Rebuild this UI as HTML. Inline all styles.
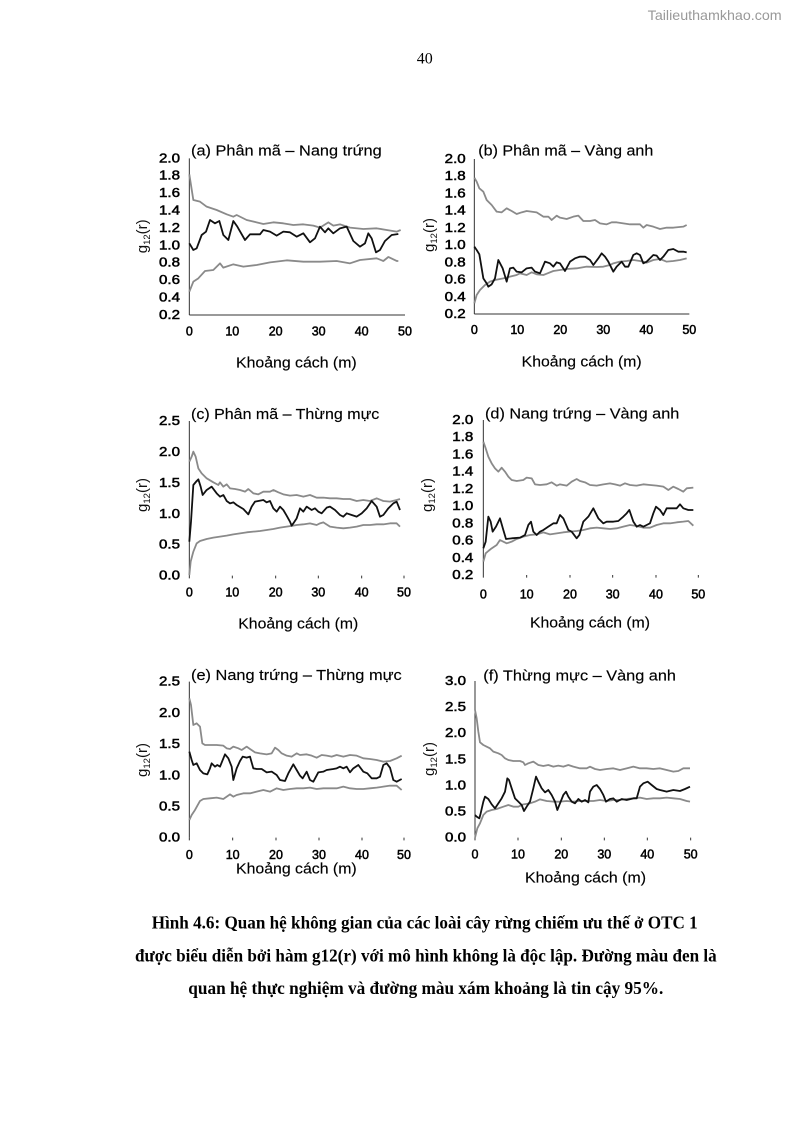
<!DOCTYPE html>
<html><head><meta charset="utf-8"><style>
html,body{margin:0;padding:0;background:#fff;}
svg{display:block;}
.tk{font-family:"Liberation Sans",Arial,sans-serif;font-size:12.5px;fill:#000;stroke:#000;stroke-width:0.5;}
.tt{font-family:"Liberation Sans",Arial,sans-serif;font-size:15px;fill:#000;stroke:#000;stroke-width:0.15;}
.yl{font-family:"Liberation Sans",Arial,sans-serif;font-size:15px;fill:#111;}
.cap{font-family:"Liberation Serif","Times New Roman",serif;font-size:18px;font-weight:bold;fill:#000;}
.g{fill:none;stroke:#8a8a8a;stroke-width:1.8;stroke-linejoin:round;}
.b{fill:none;stroke:#111;stroke-width:1.8;stroke-linejoin:round;}
.ax{stroke:#333;stroke-width:1;fill:none;}
</style></head><body>
<svg width="794" height="1123" viewBox="0 0 794 1123" xmlns="http://www.w3.org/2000/svg">
<rect width="794" height="1123" fill="#fff"/>
<text x="647.7" y="20" font-family="Liberation Sans, Arial, sans-serif" font-size="14" fill="#999" textLength="134" lengthAdjust="spacingAndGlyphs">Tailieuthamkhao.com</text>
<text x="416.7" y="63.3" font-family="Liberation Serif, Times New Roman, serif" font-size="16" fill="#000">40</text>

<!-- Panel a -->
<g transform="translate(130,135) scale(0.33333)">
<line class="ax" vector-effect="non-scaling-stroke" x1="178" y1="70" x2="178" y2="540"/>
<line class="ax" vector-effect="non-scaling-stroke" x1="178" y1="540" x2="825" y2="540"/>
<polyline class="g" vector-effect="non-scaling-stroke" points="178,118 190,195 210,200 230,215 260,225 290,238 310,245 320,240 350,255 380,262 400,267 430,262 460,265 490,270 520,268 550,272 570,278 595,262 610,272 630,268 660,278 700,282 740,280 770,285 800,290 812,285"/>
<polyline class="g" vector-effect="non-scaling-stroke" points="178,470 190,440 205,430 225,408 250,405 270,385 280,398 310,388 340,395 380,390 420,382 470,376 520,380 570,380 620,378 660,385 690,375 740,370 760,378 775,366 800,378 805,378"/>
<polyline class="b" vector-effect="non-scaling-stroke" points="178,325 190,345 200,340 215,300 228,290 240,255 255,265 268,258 280,300 295,315 310,258 322,275 345,315 360,298 390,298 400,285 420,290 440,302 460,290 480,292 500,305 520,295 540,322 555,310 570,275 585,292 595,280 610,295 630,280 650,275 670,318 690,335 705,325 715,295 725,310 738,352 750,345 765,318 785,300 805,297"/>
</g>
<g class="tk" text-anchor="end">
<text x="180" y="162.3" textLength="21" lengthAdjust="spacingAndGlyphs">2.0</text>
<text x="180" y="179.7" textLength="21" lengthAdjust="spacingAndGlyphs">1.8</text>
<text x="180" y="197" textLength="21" lengthAdjust="spacingAndGlyphs">1.6</text>
<text x="180" y="214.7" textLength="21" lengthAdjust="spacingAndGlyphs">1.4</text>
<text x="180" y="232" textLength="21" lengthAdjust="spacingAndGlyphs">1.2</text>
<text x="180" y="249.3" textLength="21" lengthAdjust="spacingAndGlyphs">1.0</text>
<text x="180" y="266.7" textLength="21" lengthAdjust="spacingAndGlyphs">0.8</text>
<text x="180" y="284" textLength="21" lengthAdjust="spacingAndGlyphs">0.6</text>
<text x="180" y="301.3" textLength="21" lengthAdjust="spacingAndGlyphs">0.4</text>
<text x="180" y="319" textLength="21" lengthAdjust="spacingAndGlyphs">0.2</text>
</g>
<g class="tk" text-anchor="middle">
<text x="189.3" y="335.7">0</text><text x="232.3" y="335.7">10</text><text x="275.7" y="335.7">20</text><text x="318.7" y="335.7">30</text><text x="361.7" y="335.7">40</text><text x="405" y="335.7">50</text>
</g>
<text class="tt" x="191" y="155.7" textLength="190.7" lengthAdjust="spacingAndGlyphs">(a) Phân mã – Nang trứng</text>
<text class="tt" x="236" y="367.3" textLength="120.7" lengthAdjust="spacingAndGlyphs">Khoảng cách (m)</text>
<text class="yl" text-anchor="middle" transform="translate(147,236.3) rotate(-90)">g<tspan font-size="9.5" dy="3">12</tspan><tspan dy="-3">(r)</tspan></text>

<!-- Panel b -->
<g transform="translate(420,135) scale(0.33333)">
<line class="ax" vector-effect="non-scaling-stroke" x1="163" y1="72" x2="163" y2="537"/>
<line class="ax" vector-effect="non-scaling-stroke" x1="163" y1="537" x2="808" y2="537"/>
<polyline class="g" vector-effect="non-scaling-stroke" points="163,128 170,140 178,160 190,170 200,195 215,210 230,230 245,232 260,220 275,228 290,237 305,232 320,228 350,232 370,245 385,245 395,255 410,242 420,248 440,252 460,245 475,242 490,258 510,258 525,255 540,265 560,268 575,262 590,262 610,265 630,268 660,268 670,278 680,270 700,275 720,282 740,278 760,278 790,275 800,270"/>
<polyline class="g" vector-effect="non-scaling-stroke" points="163,505 170,480 180,465 195,450 210,440 225,435 250,430 270,425 290,420 300,415 320,420 335,412 350,418 370,420 380,416 400,408 420,405 440,402 470,400 500,395 530,396 550,395 570,390 580,385 600,380 620,378 640,375 660,378 680,383 700,375 720,372 740,380 760,378 780,375 800,370"/>
<polyline class="b" vector-effect="non-scaling-stroke" points="163,335 170,345 178,358 190,430 200,445 205,455 215,448 225,430 235,375 248,400 260,440 270,400 280,398 290,410 305,412 320,400 335,398 345,410 360,415 375,380 390,385 400,395 410,382 420,385 435,408 450,380 465,370 480,365 495,365 510,375 520,390 535,370 545,355 555,365 565,380 580,410 590,395 605,380 615,395 625,395 640,360 650,355 660,360 670,385 680,380 700,360 710,362 720,375 730,365 745,345 760,342 775,350 790,350 800,352"/>
</g>
<g class="tk" text-anchor="end">
<text x="465.7" y="163" textLength="21" lengthAdjust="spacingAndGlyphs">2.0</text>
<text x="465.7" y="180.2" textLength="21" lengthAdjust="spacingAndGlyphs">1.8</text>
<text x="465.7" y="197.4" textLength="21" lengthAdjust="spacingAndGlyphs">1.6</text>
<text x="465.7" y="214.7" textLength="21" lengthAdjust="spacingAndGlyphs">1.4</text>
<text x="465.7" y="231.9" textLength="21" lengthAdjust="spacingAndGlyphs">1.2</text>
<text x="465.7" y="249.1" textLength="21" lengthAdjust="spacingAndGlyphs">1.0</text>
<text x="465.7" y="266.3" textLength="21" lengthAdjust="spacingAndGlyphs">0.8</text>
<text x="465.7" y="283.5" textLength="21" lengthAdjust="spacingAndGlyphs">0.6</text>
<text x="465.7" y="300.8" textLength="21" lengthAdjust="spacingAndGlyphs">0.4</text>
<text x="465.7" y="318" textLength="21" lengthAdjust="spacingAndGlyphs">0.2</text>
</g>
<g class="tk" text-anchor="middle">
<text x="474.3" y="334">0</text><text x="517.3" y="334">10</text><text x="560.3" y="334">20</text><text x="603.3" y="334">30</text><text x="646.3" y="334">40</text><text x="689.3" y="334">50</text>
</g>
<text class="tt" x="478.3" y="155.7" textLength="175" lengthAdjust="spacingAndGlyphs">(b) Phân mã – Vàng anh</text>
<text class="tt" x="521.7" y="366.7" textLength="120" lengthAdjust="spacingAndGlyphs">Khoảng cách (m)</text>
<text class="yl" text-anchor="middle" transform="translate(434,235) rotate(-90)">g<tspan font-size="9.5" dy="3">12</tspan><tspan dy="-3">(r)</tspan></text>

<!-- Panel c -->
<g transform="translate(130,395) scale(0.33333)">
<line class="ax" vector-effect="non-scaling-stroke" x1="178" y1="78" x2="178" y2="542"/>
<path class="ax" vector-effect="non-scaling-stroke" d="M178,542v8M307,542v8M437,542v8M565,542v8M695,542v8M822,542v8"/>
<polyline class="g" vector-effect="non-scaling-stroke" points="178,200 185,185 190,170 197,185 205,220 215,235 230,250 250,262 265,270 270,262 280,275 290,268 300,280 315,282 330,285 345,290 355,282 370,295 385,298 400,290 420,290 430,285 445,292 460,298 480,302 500,300 520,305 540,300 560,308 580,308 600,310 620,310 640,312 660,312 680,318 700,315 720,318 740,310 760,318 780,320 800,315 810,312"/>
<polyline class="g" vector-effect="non-scaling-stroke" points="178,540 182,500 190,470 200,445 210,438 230,432 250,428 270,425 290,422 310,418 330,415 350,412 370,410 390,408 410,405 430,402 450,398 470,395 490,392 500,390 520,388 540,385 560,390 570,385 580,382 600,395 620,398 640,400 660,398 680,395 700,390 720,390 740,388 760,388 780,385 800,385 810,395"/>
<polyline class="b" vector-effect="non-scaling-stroke" points="178,440 183,380 190,270 200,258 205,253 212,275 218,300 230,285 245,275 260,295 270,305 280,300 290,318 300,325 310,322 320,330 340,342 355,358 365,335 375,320 385,318 400,315 410,322 420,318 430,340 440,350 450,335 460,345 470,362 480,380 485,392 490,385 500,370 510,340 520,350 530,335 545,345 555,340 565,350 575,355 590,338 600,335 615,345 630,360 640,365 650,355 665,360 680,365 695,355 710,340 725,318 740,335 750,365 760,360 775,340 790,325 800,320 810,345"/>
</g>
<g class="tk" text-anchor="end">
<text x="180" y="425" textLength="21" lengthAdjust="spacingAndGlyphs">2.5</text>
<text x="180" y="455.9" textLength="21" lengthAdjust="spacingAndGlyphs">2.0</text>
<text x="180" y="486.9" textLength="21" lengthAdjust="spacingAndGlyphs">1.5</text>
<text x="180" y="517.8" textLength="21" lengthAdjust="spacingAndGlyphs">1.0</text>
<text x="180" y="548.7" textLength="21" lengthAdjust="spacingAndGlyphs">0.5</text>
<text x="180" y="579.7" textLength="21" lengthAdjust="spacingAndGlyphs">0.0</text>
</g>
<g class="tk" text-anchor="middle">
<text x="189.3" y="596.7">0</text><text x="232.3" y="596.7">10</text><text x="275.7" y="596.7">20</text><text x="318.3" y="596.7">30</text><text x="361.7" y="596.7">40</text><text x="404" y="596.7">50</text>
</g>
<text class="tt" x="191" y="419" textLength="188.3" lengthAdjust="spacingAndGlyphs">(c) Phân mã – Thừng mực</text>
<text class="tt" x="238.3" y="628.3" textLength="120" lengthAdjust="spacingAndGlyphs">Khoảng cách (m)</text>
<text class="yl" text-anchor="middle" transform="translate(147,495) rotate(-90)">g<tspan font-size="9.5" dy="3">12</tspan><tspan dy="-3">(r)</tspan></text>

<!-- Panel d -->
<g transform="translate(420,395) scale(0.33333)">
<line class="ax" vector-effect="non-scaling-stroke" x1="190" y1="75" x2="190" y2="540"/>
<path class="ax" vector-effect="non-scaling-stroke" d="M190,540v8M320,540v8M450,540v8M578,540v8M708,540v8M835,540v8"/>
<polyline class="g" vector-effect="non-scaling-stroke" points="190,140 197,160 205,185 215,205 225,220 235,230 245,218 255,230 265,245 275,255 290,258 310,255 320,248 335,250 345,268 360,270 380,268 395,262 410,272 420,268 440,272 455,260 470,252 480,258 495,262 510,270 530,272 550,268 570,265 585,268 600,272 615,265 630,270 650,272 670,268 690,270 710,272 730,275 745,285 760,275 775,282 790,290 800,280 820,278"/>
<polyline class="g" vector-effect="non-scaling-stroke" points="190,500 197,475 205,468 215,460 230,450 240,435 250,440 260,445 275,440 290,432 310,425 330,420 350,418 370,412 390,418 410,415 430,412 450,410 470,408 490,405 510,400 530,398 550,400 570,402 590,400 610,395 630,390 650,393 670,398 690,398 710,390 730,385 750,385 770,382 790,380 805,378 820,392"/>
<polyline class="b" vector-effect="non-scaling-stroke" points="190,460 197,440 205,365 212,380 218,410 228,395 240,370 250,405 258,432 275,430 300,428 315,420 325,390 333,380 340,410 350,420 360,410 370,405 385,395 400,385 410,385 420,360 430,370 445,405 455,410 470,430 478,420 490,380 505,365 520,340 535,370 550,385 560,380 580,380 595,378 610,365 620,355 628,345 640,380 650,395 660,390 670,395 680,390 690,385 700,355 708,335 720,345 730,360 740,340 755,340 770,340 780,328 790,340 805,345 820,345"/>
</g>
<g class="tk" text-anchor="end">
<text x="473.3" y="424" textLength="21" lengthAdjust="spacingAndGlyphs">2.0</text>
<text x="473.3" y="441.2" textLength="21" lengthAdjust="spacingAndGlyphs">1.8</text>
<text x="473.3" y="458.4" textLength="21" lengthAdjust="spacingAndGlyphs">1.6</text>
<text x="473.3" y="475.7" textLength="21" lengthAdjust="spacingAndGlyphs">1.4</text>
<text x="473.3" y="492.9" textLength="21" lengthAdjust="spacingAndGlyphs">1.2</text>
<text x="473.3" y="510.1" textLength="21" lengthAdjust="spacingAndGlyphs">1.0</text>
<text x="473.3" y="527.3" textLength="21" lengthAdjust="spacingAndGlyphs">0.8</text>
<text x="473.3" y="544.5" textLength="21" lengthAdjust="spacingAndGlyphs">0.6</text>
<text x="473.3" y="561.8" textLength="21" lengthAdjust="spacingAndGlyphs">0.4</text>
<text x="473.3" y="579" textLength="21" lengthAdjust="spacingAndGlyphs">0.2</text>
</g>
<g class="tk" text-anchor="middle">
<text x="483.3" y="598.3">0</text><text x="526.7" y="598.3">10</text><text x="570" y="598.3">20</text><text x="612.7" y="598.3">30</text><text x="656" y="598.3">40</text><text x="698.3" y="598.3">50</text>
</g>
<text class="tt" x="485" y="418.3" textLength="194.3" lengthAdjust="spacingAndGlyphs">(d) Nang trứng – Vàng anh</text>
<text class="tt" x="530" y="627.7" textLength="120" lengthAdjust="spacingAndGlyphs">Khoảng cách (m)</text>
<text class="yl" text-anchor="middle" transform="translate(432,495) rotate(-90)">g<tspan font-size="9.5" dy="3">12</tspan><tspan dy="-3">(r)</tspan></text>

<!-- Panel e -->
<g transform="translate(130,655) scale(0.33333)">
<line class="ax" vector-effect="non-scaling-stroke" x1="178" y1="80" x2="178" y2="548"/>
<path class="ax" vector-effect="non-scaling-stroke" d="M178,548v8M308,548v8M438,548v8M567,548v8M696,548v8M822,548v8"/>
<polyline class="g" vector-effect="non-scaling-stroke" points="178,130 183,150 190,210 200,205 210,215 217,265 225,270 260,270 280,272 290,280 300,282 310,275 325,280 335,285 350,275 360,282 375,292 390,295 410,298 425,295 435,278 445,285 455,295 470,302 485,305 500,295 510,300 530,298 545,302 560,308 575,300 590,302 605,305 620,300 640,305 660,300 680,302 700,310 720,312 740,315 760,320 780,318 800,310 815,302"/>
<polyline class="g" vector-effect="non-scaling-stroke" points="178,495 185,480 195,465 210,438 220,432 240,430 260,428 280,432 300,418 310,425 320,420 340,415 360,415 380,410 400,405 420,410 440,400 460,405 480,402 500,400 520,400 540,398 560,402 580,400 600,400 620,400 640,395 660,400 680,402 700,402 720,400 740,398 760,395 780,392 800,392 815,405"/>
<polyline class="b" vector-effect="non-scaling-stroke" points="178,290 185,315 190,330 200,325 210,345 220,355 232,358 240,340 245,325 255,335 262,330 270,335 285,298 295,310 305,335 310,375 320,340 330,318 338,305 350,308 360,305 370,340 380,342 395,342 410,352 425,350 440,360 450,375 465,378 475,355 490,328 500,345 510,362 518,370 530,350 540,375 550,380 565,352 580,350 590,345 610,342 620,340 630,335 640,340 650,335 660,352 670,340 685,330 700,350 712,355 725,370 740,370 750,365 760,330 770,325 780,338 790,375 800,380 815,372"/>
</g>
<g class="tk" text-anchor="end">
<text x="180" y="685.7" textLength="21" lengthAdjust="spacingAndGlyphs">2.5</text>
<text x="180" y="716.9" textLength="21" lengthAdjust="spacingAndGlyphs">2.0</text>
<text x="180" y="748.1" textLength="21" lengthAdjust="spacingAndGlyphs">1.5</text>
<text x="180" y="779.3" textLength="21" lengthAdjust="spacingAndGlyphs">1.0</text>
<text x="180" y="810.5" textLength="21" lengthAdjust="spacingAndGlyphs">0.5</text>
<text x="180" y="841.7" textLength="21" lengthAdjust="spacingAndGlyphs">0.0</text>
</g>
<g class="tk" text-anchor="middle">
<text x="189.3" y="859">0</text><text x="232.7" y="859">10</text><text x="276" y="859">20</text><text x="319" y="859">30</text><text x="362" y="859">40</text><text x="404" y="859">50</text>
</g>
<text class="tt" x="191" y="680" textLength="210.7" lengthAdjust="spacingAndGlyphs">(e) Nang trứng – Thừng mực</text>
<text class="tt" x="236" y="873.3" textLength="120.7" lengthAdjust="spacingAndGlyphs">Khoảng cách (m)</text>
<text class="yl" text-anchor="middle" transform="translate(147,760) rotate(-90)">g<tspan font-size="9.5" dy="3">12</tspan><tspan dy="-3">(r)</tspan></text>

<!-- Panel f -->
<g transform="translate(420,655) scale(0.33333)">
<line class="ax" vector-effect="non-scaling-stroke" x1="165" y1="78" x2="165" y2="548"/>
<path class="ax" vector-effect="non-scaling-stroke" d="M165,548v8M294,548v8M424,548v8M553,548v8M682,548v8M812,548v8"/>
<polyline class="g" vector-effect="non-scaling-stroke" points="165,165 170,190 175,230 180,262 190,270 200,275 210,280 220,290 235,295 245,300 255,310 265,315 280,318 300,318 310,322 315,330 325,325 340,320 355,330 370,333 385,330 400,335 415,332 430,335 445,330 460,335 480,340 500,340 510,335 525,342 540,345 560,342 580,340 600,345 620,340 640,335 660,340 680,340 700,342 720,340 740,345 760,350 775,348 790,340 810,340"/>
<polyline class="g" vector-effect="non-scaling-stroke" points="165,548 172,520 180,505 190,480 200,470 215,465 230,462 250,455 265,450 280,455 295,455 310,448 330,445 345,440 360,433 380,438 400,440 420,440 440,438 460,440 480,438 500,438 520,438 540,435 560,438 580,435 600,435 620,432 640,430 660,428 680,432 700,430 720,430 740,428 760,430 780,432 800,438 810,440"/>
<polyline class="b" vector-effect="non-scaling-stroke" points="165,480 170,485 178,490 182,475 190,440 195,425 205,432 215,448 225,460 235,445 245,430 255,410 262,370 267,375 275,400 285,430 295,440 305,450 312,468 320,455 330,440 340,400 348,365 355,380 365,400 375,412 385,405 395,420 405,440 412,465 420,445 430,420 438,410 445,425 455,440 465,445 475,432 485,440 495,435 505,442 510,410 520,395 530,390 540,402 550,420 558,440 570,432 580,430 590,440 605,432 620,435 640,430 650,430 660,395 670,385 683,380 695,390 710,402 720,405 740,410 760,405 780,408 795,402 810,395"/>
</g>
<g class="tk" text-anchor="end">
<text x="466" y="685" textLength="21" lengthAdjust="spacingAndGlyphs">3.0</text>
<text x="466" y="711.1" textLength="21" lengthAdjust="spacingAndGlyphs">2.5</text>
<text x="466" y="737.2" textLength="21" lengthAdjust="spacingAndGlyphs">2.0</text>
<text x="466" y="763.3" textLength="21" lengthAdjust="spacingAndGlyphs">1.5</text>
<text x="466" y="789.4" textLength="21" lengthAdjust="spacingAndGlyphs">1.0</text>
<text x="466" y="815.5" textLength="21" lengthAdjust="spacingAndGlyphs">0.5</text>
<text x="466" y="841.7" textLength="21" lengthAdjust="spacingAndGlyphs">0.0</text>
</g>
<g class="tk" text-anchor="middle">
<text x="475" y="858.3">0</text><text x="518" y="858.3">10</text><text x="561.3" y="858.3">20</text><text x="604.3" y="858.3">30</text><text x="647.3" y="858.3">40</text><text x="690.7" y="858.3">50</text>
</g>
<text class="tt" x="483.3" y="680.7" textLength="192.7" lengthAdjust="spacingAndGlyphs">(f) Thừng mực – Vàng anh</text>
<text class="tt" x="525" y="882.7" textLength="121" lengthAdjust="spacingAndGlyphs">Khoảng cách (m)</text>
<text class="yl" text-anchor="middle" transform="translate(434,759) rotate(-90)">g<tspan font-size="9.5" dy="3">12</tspan><tspan dy="-3">(r)</tspan></text>

<!-- Caption -->
<text class="cap" x="151.7" y="928.3" textLength="546" lengthAdjust="spacingAndGlyphs">Hình 4.6: Quan hệ không gian của các loài cây rừng chiếm ưu thế ở OTC 1</text>
<text class="cap" x="135" y="961.7" textLength="581.7" lengthAdjust="spacingAndGlyphs">được biểu diễn bởi hàm g12(r) với mô hình không là độc lập. Đường màu đen là</text>
<text class="cap" x="188.3" y="994" textLength="475" lengthAdjust="spacingAndGlyphs">quan hệ thực nghiệm và đường màu xám khoảng là tin cậy 95%.</text>
</svg>
</body></html>
